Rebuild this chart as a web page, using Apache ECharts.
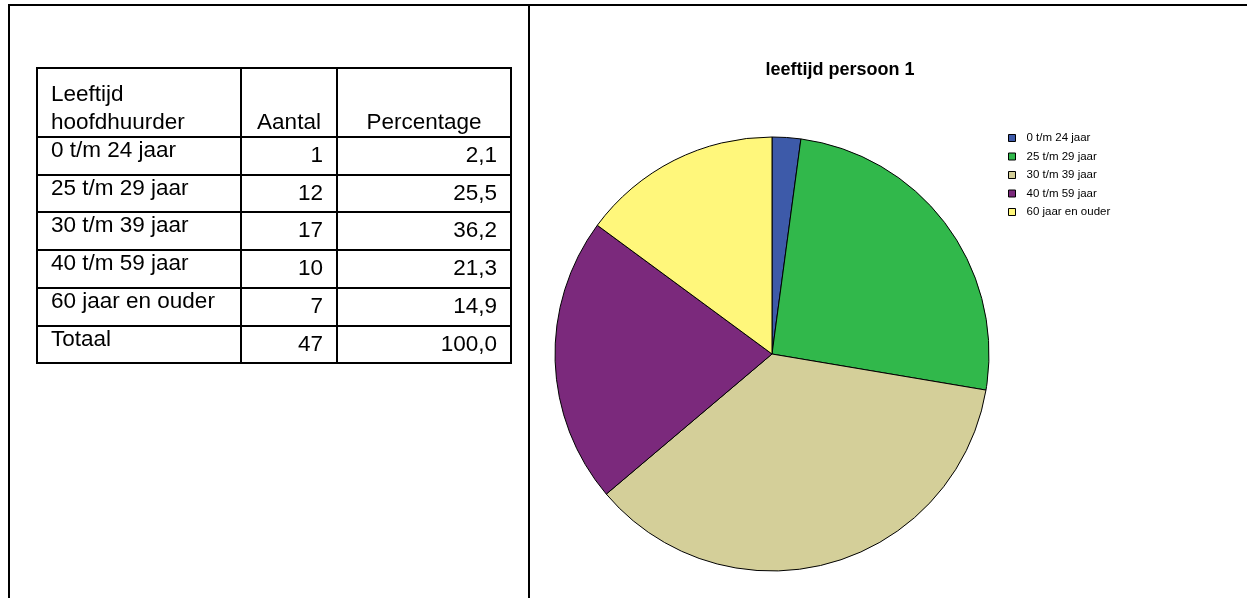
<!DOCTYPE html>
<html>
<head>
<meta charset="utf-8">
<title>leeftijd persoon 1</title>
<script src="https://cdn.jsdelivr.net/npm/echarts@6/dist/echarts.min.js"></script>
<style>
  html, body { margin: 0; padding: 0; background: #ffffff; }
  #chart { width: 1247px; height: 598px; }
</style>
</head>
<body>
<div id="chart"></div>
<script>
// Age groups of the main tenant, with counts and percentages
const categories = ['0 t/m 24 jaar', '25 t/m 29 jaar', '30 t/m 39 jaar', '40 t/m 59 jaar', '60 jaar en ouder'];
const counts = [1, 12, 17, 10, 7];
const percentages = [2.1, 25.5, 36.2, 21.3, 14.9];
const totalLabel = 'Totaal';
const totalCount = 47;
const totalPercentage = 100.0;
const headers = ['Leeftijd\nhoofdhuurder', 'Aantal', 'Percentage'];
const chartTitle = 'leeftijd persoon 1';
const sliceColors = ['#3d5aa9', '#31b84b', '#d4cf99', '#7b297c', '#fff77b'];

const FONT = '"Liberation Sans", Arial, sans-serif';
const fmt = v => v.toFixed(1).replace('.', ',');

// Table geometry
const colX = [37, 241, 337, 511];
const rowY = [68, 137, 175, 212, 250, 288, 326, 363];
const PAD = 14;
const TABLE_FONT = 22.5;

const graphics = [];

// Page frame lines
const frame = [
  [8, 5, 1247, 5],
  [9, 4, 9, 598],
  [529, 4, 529, 598]
];
frame.forEach(([x1, y1, x2, y2]) => {
  graphics.push({ type: 'line', shape: { x1, y1, x2, y2 }, style: { stroke: '#000', lineWidth: 2 }, silent: true });
});

// Table grid
colX.forEach(x => {
  graphics.push({ type: 'line', shape: { x1: x, y1: rowY[0] - 1, x2: x, y2: rowY[rowY.length - 1] + 1 }, style: { stroke: '#000', lineWidth: 2 }, silent: true });
});
rowY.forEach(y => {
  graphics.push({ type: 'line', shape: { x1: colX[0] - 1, y1: y, x2: colX[colX.length - 1] + 1, y2: y }, style: { stroke: '#000', lineWidth: 2 }, silent: true });
});

function cellText(text, x, y, align) {
  graphics.push({
    type: 'text', x, y, silent: true,
    style: { text, fill: '#000', font: TABLE_FONT + 'px ' + FONT, align, verticalAlign: 'middle' }
  });
}

// Header row
const headLines = headers[0].split('\n');
cellText(headLines[0], colX[0] + PAD, 103 - 7.8, 'left');
cellText(headLines[1], colX[0] + PAD, 131 - 7.8, 'left');
cellText(headers[1], (colX[1] + colX[2]) / 2, 131 - 7.8, 'center');
cellText(headers[2], (colX[2] + colX[3]) / 2, 131 - 7.8, 'center');

// Body rows plus total
const rows = categories.map((c, i) => [c, String(counts[i]), fmt(percentages[i])]);
rows.push([totalLabel, String(totalCount), fmt(totalPercentage)]);
rows.forEach((r, i) => {
  const top = rowY[i + 1];
  cellText(r[0], colX[0] + PAD, top + 14.2, 'left');
  cellText(r[1], colX[2] - PAD, top + 19.2, 'right');
  cellText(r[2], colX[3] - PAD, top + 19.2, 'right');
});

// Chart title
graphics.push({
  type: 'text', x: 840, y: 70, silent: true,
  style: { text: chartTitle, fill: '#000', font: 'bold 18px ' + FONT, align: 'center', verticalAlign: 'middle' }
});

const chart = echarts.init(document.getElementById('chart'), null, { renderer: 'canvas' });
chart.setOption({
  animation: false,
  backgroundColor: '#ffffff',
  color: sliceColors,
  legend: {
    orient: 'vertical',
    left: 1003,
    top: 127,
    itemWidth: 7,
    itemHeight: 7,
    itemGap: 6.5,
    icon: 'rect',
    selectedMode: false,
    itemStyle: { borderColor: '#000', borderWidth: 1 },
    textStyle: { fontFamily: FONT, fontSize: 11.5, color: '#000', padding: [0, 0, 0, 6] },
    data: categories
  },
  series: [{
    type: 'pie',
    center: [772, 354],
    radius: 217,
    startAngle: 90,
    clockwise: true,
    label: { show: false },
    labelLine: { show: false },
    emphasis: { disabled: true },
    itemStyle: { borderColor: '#000', borderWidth: 1 },
    data: categories.map((name, i) => ({ name, value: counts[i] }))
  }],
  graphic: graphics
});
</script>
</body>
</html>
